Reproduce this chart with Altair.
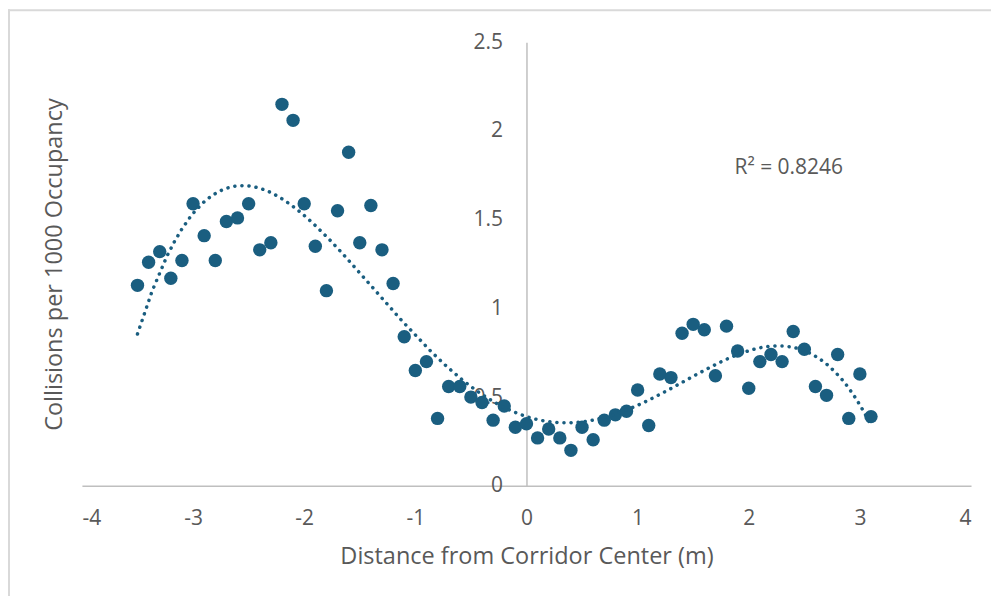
import altair as alt
import pandas as pd

xs = [-3.5, -3.4, -3.3, -3.2, -3.1, -3.0, -2.9, -2.8, -2.7, -2.6, -2.5, -2.4, -2.3, -2.2, -2.1,
      -2.0, -1.9, -1.8, -1.7, -1.6, -1.5, -1.4, -1.3, -1.2, -1.1, -1.0, -0.9, -0.8, -0.7, -0.6,
      -0.5, -0.4, -0.3, -0.2, -0.1, 0.0, 0.1, 0.2, 0.3, 0.4, 0.5, 0.6, 0.7, 0.8, 0.9, 1.0, 1.1,
      1.2, 1.3, 1.4, 1.5, 1.6, 1.7, 1.8, 1.9, 2.0, 2.1, 2.2, 2.3, 2.4, 2.5, 2.6, 2.7, 2.8, 2.9,
      3.0, 3.1]
ys = [1.13, 1.26, 1.32, 1.17, 1.27, 1.59, 1.41, 1.27, 1.49, 1.51, 1.59, 1.33, 1.37, 2.15, 2.06,
      1.59, 1.35, 1.10, 1.55, 1.88, 1.37, 1.58, 1.33, 1.14, 0.84, 0.65, 0.70, 0.38, 0.56, 0.56,
      0.50, 0.47, 0.37, 0.45, 0.33, 0.35, 0.27, 0.32, 0.27, 0.20, 0.33, 0.26, 0.37, 0.40, 0.42,
      0.54, 0.34, 0.63, 0.61, 0.86, 0.91, 0.88, 0.62, 0.90, 0.76, 0.55, 0.70, 0.74, 0.70, 0.87,
      0.77, 0.56, 0.51, 0.74, 0.38, 0.63, 0.39]

x_ticks = [-4, -3, -2, -1, 0, 1, 2, 3, 4]
y_ticks = [0, 0.5, 1, 1.5, 2, 2.5]
r2_label = ["R\u00b2 = 0.8246"]
r2_pos_x = [2.36]
r2_pos_y = [1.79]

df = pd.DataFrame({"x": xs, "y": ys})
lab = pd.DataFrame({"x": r2_pos_x, "y": r2_pos_y, "t": r2_label})

COLOR = "#1a5e80"
GRAY = "#595959"
FONT = "Open Sans"

xenc = alt.X("x:Q", scale=alt.Scale(domain=[-4, 4], nice=False),
             axis=alt.Axis(values=x_ticks, labelExpr="'' + datum.value", ticks=False, grid=False,
                           domainColor="#bfbfbf", domainWidth=1.5, labelPadding=22,
                           labelFontSize=21, labelColor=GRAY, labelFont=FONT,
                           title="Distance from Corridor Center (m)", titleFontSize=23.5,
                           titleFontWeight="normal", titleColor=GRAY, titleFont=FONT,
                           titlePadding=16))
yenc = alt.Y("y:Q", scale=alt.Scale(domain=[0, 2.5], nice=False),
             axis=alt.Axis(values=y_ticks, labelExpr="'' + datum.value", ticks=False, grid=False,
                           offset=-445, domainColor="#bfbfbf", domainWidth=1.5, labelPadding=24,
                           labelFontSize=21, labelColor=GRAY, labelFont=FONT,
                           title="Collisions per 1000 Occupancy", titleFontSize=23.5,
                           titleFontWeight="normal", titleColor=GRAY, titleFont=FONT,
                           titleX=-472, titleY=222, titleAngle=270, titleAlign="center",
                           titleBaseline="middle"))

frame_left = alt.Chart(lab).mark_rule(stroke="#d9d9d9", strokeWidth=2, clip=False).encode(
    x=alt.value(-73), y=alt.value(-33), y2=alt.value(600))
frame_top = alt.Chart(lab).mark_rule(stroke="#d9d9d9", strokeWidth=2, clip=False).encode(
    x=alt.value(-74), x2=alt.value(1000), y=alt.value(-32))

points = alt.Chart(df).mark_circle(size=180, color=COLOR, opacity=1).encode(x=xenc, y=yenc)

trend = alt.Chart(df).transform_regression("x", "y", method="poly", order=4).mark_line(
    color=COLOR, strokeWidth=3.5, strokeDash=[0.1, 7], strokeCap="round").encode(x="x:Q", y="y:Q")

text = alt.Chart(lab).mark_text(fontSize=21, color=GRAY, font=FONT).encode(
    x="x:Q", y="y:Q", text="t:N")

chart = alt.layer(frame_left, frame_top, points, trend, text).properties(
    width=890, height=444,
    autosize=alt.AutoSizeParams(type="none"),
    padding={"left": 74, "top": 34, "right": 20, "bottom": 110},
).configure(background="white").configure_view(strokeOpacity=0, strokeWidth=0)

chart.save("out.html", embed_options={"renderer": "svg", "actions": False})
